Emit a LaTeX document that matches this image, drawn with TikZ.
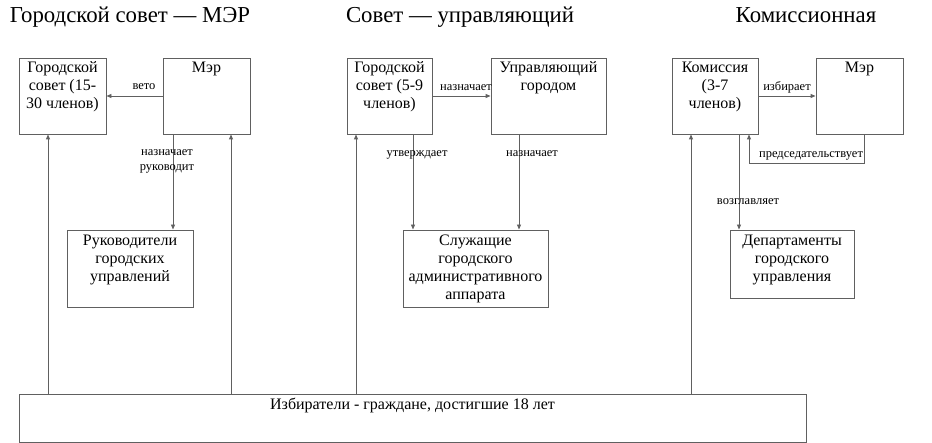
\documentclass[tikz,border=0pt]{standalone}
\usepackage{fontspec}
\setmainfont{Liberation Serif}
\usetikzlibrary{arrows.meta}
\definecolor{linegray}{RGB}{96,96,96}
\newcommand{\boxtxt}[4]{\parbox[c][#2pt][t]{#1pt}{\vspace*{#3pt}\centering\strut #4}}

\begin{document}
\begin{tikzpicture}
	[%%%%%%%%%%%%%%%%%%%%%%%%%%%%%%
	x=1pt,y=-1pt,
	box/.style={rectangle,draw=linegray,line width=0.9pt,inner sep=0pt,font=\fontsize{16}{18}\selectfont},
	title/.style={anchor=base,inner sep=0pt,font=\fontsize{22.8}{26}\selectfont},
	lbl/.style={anchor=base,inner sep=0pt,font=\fontsize{12.5}{15}\selectfont},
	arr/.style={draw=linegray,line width=0.9pt,-{Triangle[length=5pt,width=4pt]}},
	]%%%%%%%%%%%%%%%%%%%%%%%%%%%%%%
	\useasboundingbox (0,0) rectangle (932,443);
	
	\node[title] (t1) at (130,22.5) {Городской совет — МЭР};
	\node[title] (t2) at (460,22.5) {Совет — управляющий};
	\node[title] (t3) at (806,22.5) {Комиссионная};
	
	% mayor - council
	\node[box] (a1) at (62.5,96) {\boxtxt{87}{76}{1.5}{Городской\\совет (15-\\30 членов)}};
	\node[box] (a2) at (206.5,96) {\boxtxt{87}{76}{1.5}{Мэр}};
	\node[box] (a3) at (130,268.5) {\boxtxt{126}{77}{3}{Руководители\\городских\\управлений}};
	
	% council - manager
	\node[box] (b1) at (389.5,96) {\boxtxt{85}{76}{1.5}{Городской\\совет (5-9\\членов)}};
	\node[box] (b2) at (548.5,96) {\boxtxt{115}{76}{1.5}{Управляющий\\городом}};
	\node[box] (b3) at (475.5,268.5) {\boxtxt{145}{77}{3}{Служащие\\городского\\административного\\аппарата}};
	
	% commission
	\node[box] (c1) at (715,96) {\boxtxt{86}{76}{1.5}{Комиссия\\(3-7\\членов)}};
	\node[box] (c2) at (859.5,96) {\boxtxt{87}{76}{1.5}{Мэр}};
	\node[box] (c3) at (792,264) {\boxtxt{124}{68}{3}{Департаменты\\городского\\управления}};
	
	\node[box] (v) at (412.5,418) {\boxtxt{787}{48}{3}{Избиратели - граждане, достигшие 18 лет}};
	
	\coordinate (kA) at (48,0);
	\coordinate (kB) at (173,0);
	\coordinate (kC) at (231,0);
	\coordinate (kD) at (356,0);
	\coordinate (kE) at (413,0);
	\coordinate (kF) at (519,0);
	\coordinate (kG) at (691,0);
	\coordinate (kH) at (739,0);
	\coordinate (kI) at (749,0);
	\coordinate (kJ) at (864,0);
	
	\draw[arr] (a2.west) -- (a1.east);
	\draw[arr] (a2.south -| kB) -- (a3.north -| kB);
	\draw[arr] (v.north -| kA) -- (a1.south -| kA);
	\draw[arr] (v.north -| kC) -- (a2.south -| kC);
	
	\draw[arr] (b1.east) -- (b2.west);
	\draw[arr] (b1.south -| kE) -- (b3.north -| kE);
	\draw[arr] (b2.south -| kF) -- (b3.north -| kF);
	\draw[arr] (v.north -| kD) -- (b1.south -| kD);
	
	\draw[arr] (c1.east) -- (c2.west);
	\draw[arr] (c2.south -| kJ) -- ++(0,29) -| (c1.south -| kI);
	\draw[arr] (c1.south -| kH) -- (c3.north -| kH);
	\draw[arr] (v.north -| kG) -- (c1.south -| kG);
	
	\node[lbl] (l1) at (144,90) {вето};
	\node[lbl,align=center,anchor=center] (l2) at (167,161) {назначает\\руководит};
	\node[lbl] (l3) at (466,90.5) {назначает};
	\node[lbl] (l4) at (417,157) {утверждает};
	\node[lbl] (l5) at (532,157) {назначает};
	\node[lbl] (l6) at (787,90.5) {избирает};
	\node[lbl] (l7) at (811,158) {председательствует};
	\node[lbl] (l8) at (748,205) {возглавляет};
	
\end{tikzpicture}
\end{document}
